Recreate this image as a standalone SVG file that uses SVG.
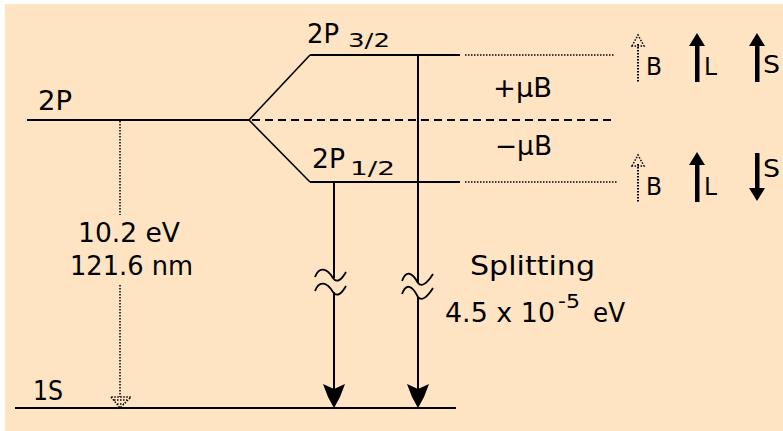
<svg xmlns="http://www.w3.org/2000/svg" width="783" height="431" viewBox="0 0 783 431">
<style>
.bg{fill:#FFE4C4}
.lvl{stroke:#000;stroke-width:2;fill:none}
.diag{stroke:#000;stroke-width:1.6;fill:none}
.dot{stroke:#000;stroke-width:1.5;stroke-dasharray:1.5 1.5;fill:none}
.dash{stroke:#000;stroke-width:2;stroke-dasharray:8 5;fill:none}
.tr{stroke:#000;stroke-width:2;fill:none}
.tilde{stroke:#000;stroke-width:1.8;fill:none}
.head{fill:#000;stroke:none}
.t{font-family:"DejaVu Sans","Liberation Sans",sans-serif;font-size:26px;fill:#000}
.ts{font-family:"DejaVu Sans","Liberation Sans",sans-serif;font-size:20px;fill:#000}
.tv{font-family:"DejaVu Sans","Liberation Sans",sans-serif;font-size:24px;fill:#000}
</style>
<rect x="0" y="0" width="783" height="431" fill="#FFFFFF"/>
<rect class="bg" x="5" y="4" width="778" height="427"/>

<g id="level-2P">
  <line class="lvl" x1="27" y1="120" x2="249" y2="120"/>
  <text class="t" x="38" y="110" textLength="34" lengthAdjust="spacingAndGlyphs">2P</text>
</g>

<g id="level-2P3-2">
  <path class="diag" d="M249,120 L310,55"/>
  <line class="lvl" x1="310" y1="55" x2="460" y2="55"/>
  <line class="dot" x1="465" y1="55" x2="615" y2="55"/>
  <text class="t" x="307" y="43" textLength="32" lengthAdjust="spacingAndGlyphs">2P</text>
  <text class="ts" x="348" y="47" textLength="42" lengthAdjust="spacingAndGlyphs">3/2</text>
</g>

<g id="level-2P1-2">
  <path class="diag" d="M249,120 L310,182"/>
  <line class="lvl" x1="310" y1="182" x2="460" y2="182"/>
  <line class="dot" x1="465" y1="182" x2="617" y2="182"/>
  <text class="t" x="312" y="168" textLength="33" lengthAdjust="spacingAndGlyphs">2P</text>
  <text class="ts" x="350" y="175" textLength="45" lengthAdjust="spacingAndGlyphs">1/2</text>
</g>

<g id="level-2P-field-free">
  <line class="dash" x1="252" y1="120" x2="612" y2="120"/>
  <text class="t" x="493" y="97" textLength="59" lengthAdjust="spacingAndGlyphs">+μB</text>
  <text class="t" x="495" y="155" textLength="57" lengthAdjust="spacingAndGlyphs">−μB</text>
</g>

<g id="level-1S">
  <line class="lvl" x1="15" y1="408" x2="456" y2="408"/>
  <text class="t" x="33" y="400" textLength="30" lengthAdjust="spacingAndGlyphs">1S</text>
</g>

<g id="vectors-upper">
  <line class="dot" x1="638" y1="44" x2="638" y2="82" style="stroke-width:2"/>
  <path class="dot" d="M632,46 L638,35 L644,46 Z"/>
  <text class="tv" x="646" y="75" textLength="16" lengthAdjust="spacingAndGlyphs">B</text>
  <rect class="head" x="695" y="44" width="4.5" height="38"/>
  <path class="head" d="M689,46 L697,33 L705,46 Z"/>
  <text class="tv" x="704" y="75" textLength="13" lengthAdjust="spacingAndGlyphs">L</text>
  <rect class="head" x="755" y="44" width="4.5" height="38"/>
  <path class="head" d="M749,46 L757,33 L765,46 Z"/>
  <text class="tv" x="763" y="73" textLength="17" lengthAdjust="spacingAndGlyphs">S</text>
</g>

<g id="vectors-lower">
  <line class="dot" x1="638" y1="164" x2="638" y2="202" style="stroke-width:2"/>
  <path class="dot" d="M632,166 L638,155 L644,166 Z"/>
  <text class="tv" x="646" y="195" textLength="16" lengthAdjust="spacingAndGlyphs">B</text>
  <rect class="head" x="695" y="163" width="4.5" height="39"/>
  <path class="head" d="M689,165 L697,152 L705,165 Z"/>
  <text class="tv" x="704" y="195" textLength="13" lengthAdjust="spacingAndGlyphs">L</text>
  <rect class="head" x="755" y="153" width="4.5" height="36"/>
  <path class="head" d="M749,188 L757,201 L765,188 Z"/>
  <text class="tv" x="763" y="177" textLength="17" lengthAdjust="spacingAndGlyphs">S</text>
</g>

<g id="connectors">
  <line class="dot" x1="120" y1="121" x2="120" y2="215"/>
  <line class="dot" x1="120" y1="285" x2="120" y2="397"/>
  <path class="dot" d="M111,397 L120,408 L131,397 Z M114,400 L127,400 M117,404 L124,404"/>

  <line class="tr" x1="334" y1="182" x2="334" y2="278"/>
  <path class="tilde" d="M315,277 C319,266 327,268 333,278 C337,284 342,279 346,272"/>
  <path class="tilde" d="M315,291 C319,280 327,282 333,292 C337,298 342,293 346,286"/>
  <line class="tr" x1="334" y1="292" x2="334" y2="390"/>
  <path class="head" d="M323,384 L334,389 L345,384 L340,397 L334,408 L328,397 Z"/>

  <line class="tr" x1="418" y1="55" x2="418" y2="283"/>
  <path class="tilde" d="M402,281 C406,270 412,272 418,283 C422,288 428,282 433,274"/>
  <path class="tilde" d="M402,294 C406,283 412,285 418,297 C422,302 428,296 433,288"/>
  <line class="tr" x1="418" y1="297" x2="418" y2="390"/>
  <path class="head" d="M407,384 L418,389 L429,384 L424,397 L418,408 L412,397 Z"/>
</g>

<g id="labels">
  <text class="t" x="78" y="242" textLength="102" lengthAdjust="spacingAndGlyphs">10.2 eV</text>
  <text class="t" x="70" y="275" textLength="123" lengthAdjust="spacingAndGlyphs">121.6 nm</text>
  <text class="t" x="470" y="275" textLength="125" lengthAdjust="spacingAndGlyphs">Splitting</text>
  <text class="t" x="445" y="322" textLength="110" lengthAdjust="spacingAndGlyphs">4.5 x 10</text>
  <text class="ts" x="558" y="308" textLength="22" lengthAdjust="spacingAndGlyphs">-5</text>
  <text class="t" x="593" y="322" textLength="32" lengthAdjust="spacingAndGlyphs">eV</text>
</g>
</svg>
